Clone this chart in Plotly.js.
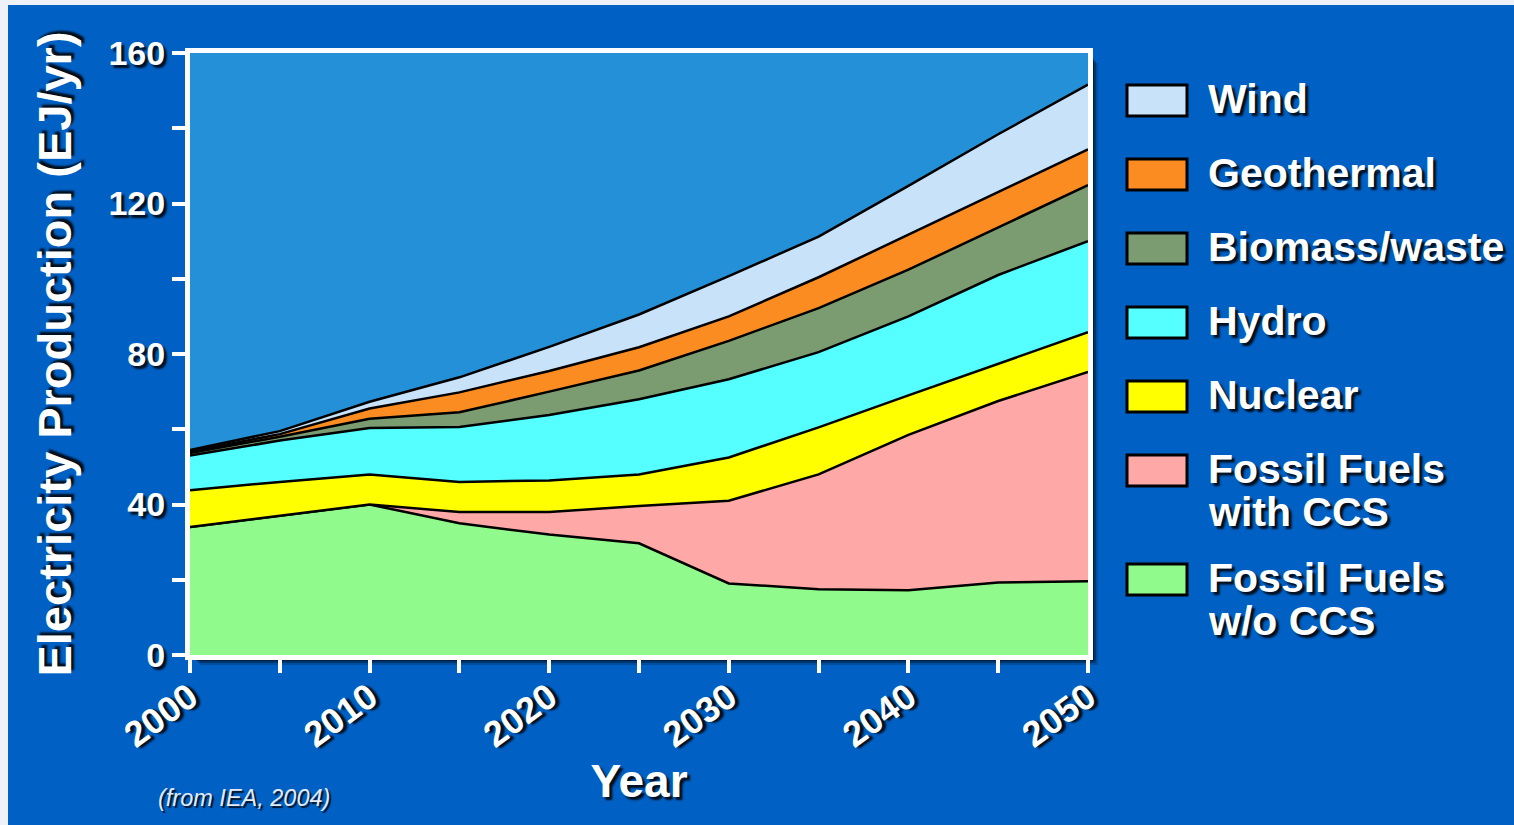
<!DOCTYPE html>
<html>
<head>
<meta charset="utf-8">
<script src="https://cdn.plot.ly/plotly-3.0.1.min.js"></script>
<style>
  html, body { margin: 0; padding: 0; background: #eef2f8; width: 1514px; height: 825px; overflow: hidden; }
  #chart { position: absolute; left: 8px; top: 5px; width: 1506px; height: 820px; }
</style>
</head>
<body>
<div id="chart"></div>
<script>
// Electricity production by source, EJ/yr (IEA, 2004 scenario)
const years = [2000, 2005, 2010, 2015, 2020, 2025, 2030, 2035, 2040, 2045, 2050];

const fossilNoCCS = [34, 37, 40, 35, 32, 29.7, 19, 17.5, 17.2, 19.3, 19.6];
const fossilCCS   = [0, 0, 0, 3, 6, 9.9, 22, 30.5, 41.3, 48.2, 55.6];
const nuclear     = [9.8, 9, 8, 8, 8.4, 8.4, 11.5, 12.5, 10.5, 9.9, 10.6];
const hydro       = [9.2, 11, 12.3, 14.6, 17.4, 20, 20.8, 20, 21, 23.6, 24.2];
const biomass     = [0.7, 1, 2.5, 3.9, 6.2, 7.6, 10.2, 11.7, 12.4, 12.6, 14.9];
const geothermal  = [0.4, 0.7, 2.7, 5.3, 5.5, 6.2, 6.5, 8.2, 9.3, 9.4, 9.5];
const wind        = [0.4, 0.8, 1.8, 4, 6.4, 8.7, 10.7, 10.8, 13, 15.4, 17.2];

// stacked bottom to top
const seriesNames = ["Fossil Fuels w/o CCS", "Fossil Fuels with CCS", "Nuclear", "Hydro", "Biomass/waste", "Geothermal", "Wind"];
const seriesValues = [fossilNoCCS, fossilCCS, nuclear, hydro, biomass, geothermal, wind];
const seriesColors = ["#90fa8c", "#ffa8a8", "#ffff00", "#55ffff", "#7b9b70", "#fb8c22", "#c8e2fa"];

// legend entries, top to bottom
const legendLabels = ["Wind", "Geothermal", "Biomass/waste", "Hydro", "Nuclear", "Fossil Fuels<br>with CCS", "Fossil Fuels<br>w/o CCS"];
const legendColors = ["#c8e2fa", "#fb8c22", "#7b9b70", "#55ffff", "#ffff00", "#ffa8a8", "#90fa8c"];

const xTickVals = [2000, 2005, 2010, 2015, 2020, 2025, 2030, 2035, 2040, 2045, 2050];
const xTickText = ["2000", "", "2010", "", "2020", "", "2030", "", "2040", "", "2050"];
const yTickVals = [0, 20, 40, 60, 80, 100, 120, 140, 160];
const yTickText = ["0", "", "40", "", "80", "", "120", "", "160"];

// page geometry of the plotting area
const OFFX = 8, OFFY = 5, PAGE_W = 1514, PAGE_H = 825;
const PL = 190, PR = 1088, PT = 53, PB = 655;
const px = x => (x - PL) / (PR - PL);
const py = y => (PB - y) / (PB - PT);

const shadow = "3px 3px 2px rgba(0,0,0,0.85)";
const boldFont = (size) => ({ family: "Liberation Sans, Arial, sans-serif", size: size, color: "#ffffff", weight: 700, shadow: shadow });

const traces = seriesNames.map((name, i) => ({
  type: "scatter",
  mode: "lines",
  name: name,
  x: years,
  y: seriesValues[i],
  stackgroup: "energy",
  line: { color: "#000000", width: 2.5, shape: "linear" },
  fillcolor: seriesColors[i],
  showlegend: false,
  hoverinfo: "x+y+name"
}));

const shapes = [];
// soft drop shadow behind the plotting frame
[[10, 0.18], [8, 0.3], [6, 0.45], [4, 0.6]].forEach(([o, a]) => {
  shapes.push({
    type: "rect", xref: "paper", yref: "paper", layer: "below",
    x0: px(PL + o), x1: px(PR + o), y0: py(PB + o), y1: py(PT + o),
    fillcolor: "rgba(0,0,0," + a + ")", line: { width: 0 }
  });
});
// plotting area background
shapes.push({
  type: "rect", xref: "paper", yref: "paper", layer: "below",
  x0: 0, x1: 1, y0: 0, y1: 1, fillcolor: "#2490d8", line: { width: 0 }
});

// legend: swatches with one text row per line
const annotations = [];
const legendFont = boldFont(41);
let boxTop = 85;
legendLabels.forEach((label, i) => {
  const rows = label.split("<br>");
  shapes.push({
    type: "rect", xref: "paper", yref: "paper",
    x0: px(1127), x1: px(1187), y0: py(boxTop + 31), y1: py(boxTop),
    fillcolor: legendColors[i], line: { color: "#000000", width: 3 }
  });
  rows.forEach((row, k) => {
    annotations.push({
      xref: "paper", yref: "paper",
      x: px(1206), y: py(boxTop + 14 + 43 * k),
      xanchor: "left", yanchor: "middle", align: "left",
      text: row, showarrow: false,
      font: legendFont
    });
  });
  boxTop += 74 + (rows.length - 1) * 35;
});

annotations.push({
  xref: "paper", yref: "paper",
  x: px(156), y: py(798),
  xanchor: "left", yanchor: "middle",
  text: "(from IEA, 2004)", showarrow: false,
  font: { family: "Liberation Sans, Arial, sans-serif", size: 23.5, color: "#e4eaf4", style: "italic", shadow: "2px 2px 1px rgba(0,0,0,0.8)" }
});

const layout = {
  width: PAGE_W - OFFX,
  height: PAGE_H - OFFY,
  paper_bgcolor: "#0060c4",
  plot_bgcolor: "rgba(0,0,0,0)",
  margin: { l: PL - OFFX, r: PAGE_W - PR, t: PT - OFFY, b: PAGE_H - PB, pad: 0 },
  showlegend: false,
  xaxis: {
    range: [2000, 2050],
    tickvals: xTickVals, ticktext: xTickText,
    tickangle: -36,
    ticks: "outside", ticklen: 13, tickwidth: 4, tickcolor: "#ffffff",
    ticklabelstandoff: -11,
    showline: true, linecolor: "#ffffff", linewidth: 5, mirror: true,
    showgrid: false, zeroline: false,
    tickfont: boldFont(36),
    title: { text: "Year", font: boldFont(46), standoff: 0 }
  },
  yaxis: {
    range: [0, 160],
    tickvals: yTickVals, ticktext: yTickText,
    ticks: "outside", ticklen: 13, tickwidth: 4, tickcolor: "#ffffff",
    showline: true, linecolor: "#ffffff", linewidth: 5, mirror: true,
    showgrid: false, zeroline: false,
    tickfont: boldFont(34),
    title: { text: "Electricity Production (EJ/yr)", font: boldFont(47), standoff: 24 }
  },
  shapes: shapes,
  annotations: annotations
};

Plotly.newPlot("chart", traces, layout, { displayModeBar: false, staticPlot: true });
</script>
</body>
</html>
